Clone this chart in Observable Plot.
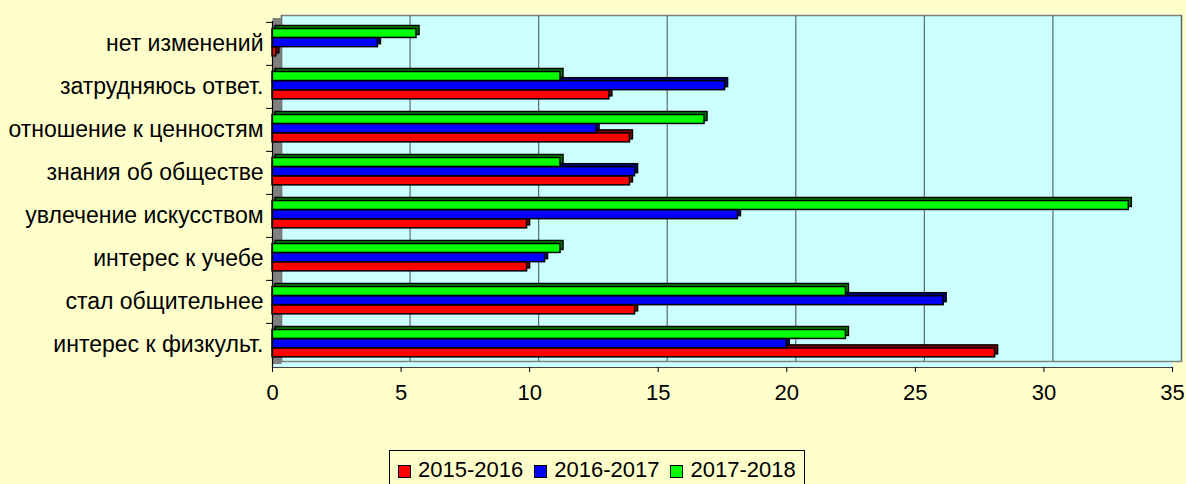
<!DOCTYPE html>
<html>
<head>
<meta charset="utf-8">
<script src="https://cdn.jsdelivr.net/npm/d3@7"></script>
<script src="https://cdn.jsdelivr.net/npm/@observablehq/plot@0.6"></script>
<style>
  html, body { margin: 0; padding: 0; background: #FFFFCC; }
  #wrap { position: relative; width: 1186px; height: 484px; overflow: hidden; background: #FFFFCC;
          font-family: "Liberation Sans", Arial, sans-serif; }
  #chart svg { display: block; }
  #legend { position: absolute; left: 389px; top: 450px; height: 40px; box-sizing: border-box;
            border: 1px solid #000; background: #FFFFCC; padding: 0 8px 0 8px;
            display: flex; align-items: flex-start; font-size: 22px; color: #000; }
  #legend .item { display: flex; align-items: center; margin-right: 11px; height: 30px; margin-top: 4px; }
  #legend .item:last-child { margin-right: 0; }
  #legend .sw { width: 11px; height: 11px; border: 1px solid #000; margin-right: 7px; margin-top: 3px; }
</style>
</head>
<body>
<div id="wrap">
  <div id="chart"></div>
  <div id="legend"></div>
</div>
<script>
// ---- data ----
const categories = [
  "нет изменений",
  "затрудняюсь ответ.",
  "отношение к ценностям",
  "знания об обществе",
  "увлечение искусством",
  "интерес к учебе",
  "стал общительнее",
  "интерес к физкульт."
];
const series = ["2015-2016", "2016-2017", "2017-2018"];
const v2015 = [0.15, 13.1, 13.9, 13.9, 9.9, 9.9, 14.1, 28.1];
const v2016 = [4.1, 17.6, 12.6, 14.1, 18.1, 10.6, 26.1, 20.0];
const v2017 = [5.6, 11.2, 16.8, 11.2, 33.3, 11.2, 22.3, 22.3];
const xTicks = [0, 5, 10, 15, 20, 25, 30, 35];

// ---- styles ----
const fills = ["#FF0000", "#0000FF", "#00FF00"];
const sides = ["#800000", "#000080", "#008000"];

const rows = (vals) => categories.map((c, i) => ({cat: c, v: vals[i]}));
const seriesRows = [rows(v2015), rows(v2016), rows(v2017)];

const W = 1186, H = 420, mT = 21, mB = 53, mL = 272, mR = 14;
const band = (H - mT - mB) / categories.length;
const faceH = 9.2;
// top offset of each series face within the band (green on top, red at bottom)
const tops = [6.5 + 2 * faceH, 6.5 + faceH, 6.5];

const barOpts = (k, extra) => ({
  x: "v", y: "cat",
  insetTop: tops[k], insetBottom: band - tops[k] - faceH,
  stroke: "#000", strokeWidth: 1.5, strokeLinejoin: "miter",
  ...extra
});

const shadows = seriesRows.map((d, k) => Plot.barX(d, barOpts(k, {fill: sides[k], dx: 3, dy: -3})));
const fronts = seriesRows.map((d, k) => Plot.barX(d, barOpts(k, {fill: fills[k]})));

const chart = Plot.plot({
  width: W, height: H,
  marginTop: mT, marginBottom: mB, marginLeft: mL, marginRight: mR,
  style: {background: "transparent", fontFamily: "'Liberation Sans', Arial, sans-serif", fontSize: "22px", color: "#000"},
  x: {domain: [0, 35], ticks: xTicks, label: null},
  y: {domain: categories, paddingInner: 0, paddingOuter: 0, label: null},
  marks: [
    Plot.frame({fill: "#CCFFFF"}),
    Plot.frame({fill: "#CCFFFF", stroke: "#808080", strokeWidth: 1.5, dx: 9, dy: -6}),
    Plot.gridX(xTicks, {stroke: "#5a6a6a", strokeOpacity: 1, strokeWidth: 1.2, dx: 9, dy: -6}),
    Plot.ruleX([0], {stroke: "#808080", strokeWidth: 9, dx: 4.5, dy: -3}),
    ...shadows,
    ...fronts,
    Plot.ruleX([0], {stroke: "#000", strokeWidth: 1.2}),
    Plot.frame({anchor: "bottom", stroke: "#404040", strokeWidth: 1.2}),
    Plot.axisX(xTicks, {tickSize: 5, tickPadding: 12, stroke: "#000", fill: "#000", fontSize: 22, label: null}),
    Plot.axisY({tickSize: 0, tickPadding: 9, fill: "#000", fontSize: 23, label: null}),
    Plot.axisY({text: null, tickSize: 6, dy: -band / 2, stroke: "#000", label: null})
  ]
});
document.getElementById("chart").appendChild(chart);

// ---- legend ----
const legend = document.getElementById("legend");
series.forEach((s, k) => {
  const it = document.createElement("div");
  it.className = "item";
  const sw = document.createElement("span");
  sw.className = "sw";
  sw.style.background = fills[k];
  const tx = document.createElement("span");
  tx.textContent = s;
  it.appendChild(sw);
  it.appendChild(tx);
  legend.appendChild(it);
});
</script>
</body>
</html>
